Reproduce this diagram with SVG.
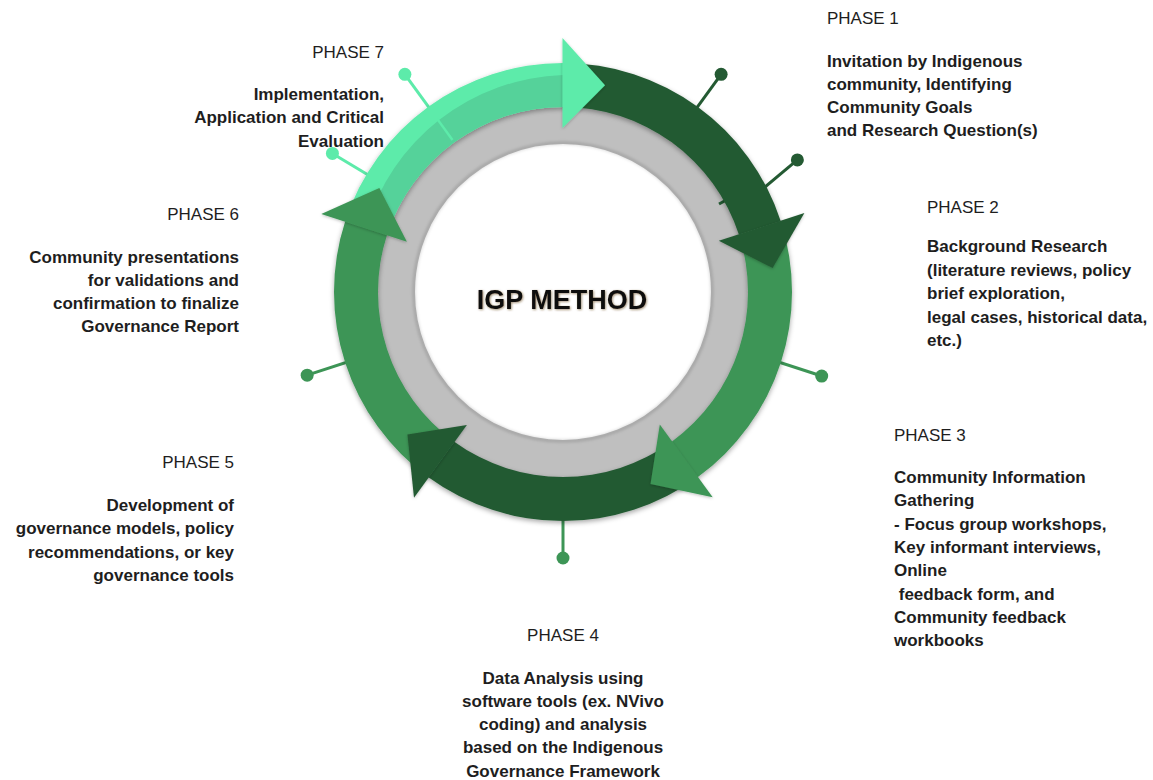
<svg xmlns="http://www.w3.org/2000/svg" width="1153" height="780" viewBox="0 0 1153 780">
  <defs>
    <style>
      .lbl { font-family: "Liberation Sans", Arial, sans-serif; font-size: 17px; fill: #1e1e1e; }
      .hd { font-weight: normal; }
      .bd { font-weight: bold; }
      .dark { fill: #245a33; }
      .mid { fill: #3d9556; }
      .light { fill: #5debaa; }
      .light2 { fill: #55d29a; }
      .pin-dark { stroke: #245a33; fill: #245a33; }
      .pin-mid { stroke: #3d9556; fill: #3d9556; }
      .pin-light { stroke: #5debaa; fill: #5debaa; }
      .stalk { stroke-width: 3; fill: none; }
    </style>
    <filter id="ringShadow" x="-20%" y="-20%" width="140%" height="140%">
      <feDropShadow dx="0" dy="2" stdDeviation="2.5" flood-color="#000" flood-opacity="0.35"/>
    </filter>
    <filter id="headShadow" x="-30%" y="-30%" width="160%" height="160%">
      <feDropShadow dx="0" dy="1" stdDeviation="1.5" flood-color="#000" flood-opacity="0.25"/>
    </filter>
    <filter id="soft" x="-10%" y="-10%" width="120%" height="120%">
      <feGaussianBlur stdDeviation="1.5"/>
    </filter>
    <filter id="titleShadow" x="-10%" y="-30%" width="120%" height="160%">
      <feDropShadow dx="0.8" dy="0.8" stdDeviation="0.8" flood-color="#5a3a10" flood-opacity="0.6"/>
    </filter>
  </defs>

  <rect width="1153" height="780" fill="#ffffff"/>

  <!-- grey inner ring -->
  <g id="core">
    <circle cx="563" cy="292" r="167" fill="none" stroke="#bfbfbf" stroke-width="38"/>
    <circle cx="563" cy="292" r="149" fill="none" stroke="#000" stroke-opacity="0.15" stroke-width="3" filter="url(#soft)"/>
    <text x="562" y="309" text-anchor="middle" font-family="'Liberation Sans', Arial, sans-serif" font-size="27" font-weight="bold" fill="#111" filter="url(#titleShadow)">IGP METHOD</text>
  </g>

  <!-- leader pins from the ring to each phase -->
  <g id="connectors" class="stalk">
    <g class="pin-dark">
      <line x1="680.56" y1="130.20" x2="721.12" y2="74.37"/>
      <circle cx="721.12" cy="74.37" r="6.5" stroke="none"/>
      <line x1="737.24" y1="210.18" x2="797.36" y2="159.95"/>
      <line x1="719" y1="204" x2="730" y2="198"/>
      <circle cx="797.36" cy="159.95" r="6.5" stroke="none"/>
    </g>
    <g class="pin-mid">
      <line x1="753.21" y1="353.80" x2="821.69" y2="376.05"/>
      <circle cx="821.69" cy="376.05" r="6.5" stroke="none"/>
      <line x1="563" y1="492" x2="563" y2="558"/>
      <circle cx="563" cy="558" r="6.5" stroke="none"/>
      <line x1="372.79" y1="353.80" x2="307.17" y2="375.13"/>
      <circle cx="307.17" cy="375.13" r="6.5" stroke="none"/>
    </g>
    <g class="pin-light">
      <line x1="391.57" y1="188.99" x2="332.42" y2="153.45"/>
      <circle cx="332.42" cy="153.45" r="6.5" stroke="none"/>
      <line x1="445.44" y1="130.20" x2="404.88" y2="74.37"/>
      <circle cx="404.88" cy="74.37" r="6.5" stroke="none"/>
    </g>
  </g>

  <!-- cycle of arrow bands -->
  <g id="cycle">
    <g filter="url(#ringShadow)">
      <path class="light" d="M 345.21 221.23 A 229 229 0 0 1 563 63 L 563 107 A 185 185 0 0 0 387.05 234.83 Z"/>
      <path class="light2" d="M 366.13 228.03 A 212 212 0 0 1 563 75 L 563 107 A 185 185 0 0 0 387.05 234.83 Z"/>
      <line x1="452.50" y1="139.90" x2="437.21" y2="118.87" stroke="#5debaa" stroke-width="2.5"/>
      <path class="dark" d="M 563 63 A 229 229 0 0 1 780.79 221.23 L 738.95 234.83 A 185 185 0 0 0 563 107 Z"/>
      <path class="mid" d="M 780.79 221.23 A 229 229 0 0 1 697.60 477.27 L 671.74 441.67 A 185 185 0 0 0 738.95 234.83 Z"/>
      <path class="dark" d="M 697.60 477.27 A 229 229 0 0 1 428.40 477.27 L 454.26 441.67 A 185 185 0 0 0 671.74 441.67 Z"/>
      <path class="mid" d="M 428.40 477.27 A 229 229 0 0 1 345.21 221.23 L 387.05 234.83 A 185 185 0 0 0 454.26 441.67 Z"/>
    </g>
    <g filter="url(#headShadow)">
      <polygon class="light" points="562.5,128 562.5,38 605.07,85.24"/>
      <polygon class="dark" points="718.8,240.8 804.4,213 772.64,268.11"/>
      <polygon class="mid" points="659.8,424.4 712.7,497.2 650.50,484.00"/>
      <polygon class="dark" points="466.9,425 414,497.8 407.43,434.55"/>
      <polygon class="mid" points="406.9,241.8 321.3,214 379.35,188.10"/>
    </g>
  </g>

  <g id="phase1" class="lbl">
    <text class="hd" x="827" y="24">PHASE 1</text>
    <text class="bd" x="827" y="66.5">Invitation by Indigenous</text>
    <text class="bd" x="827" y="89.8">community, Identifying</text>
    <text class="bd" x="827" y="113.1">Community Goals</text>
    <text class="bd" x="827" y="136.4">and Research Question(s)</text>
  </g>

  <g id="phase2" class="lbl">
    <text class="hd" x="927" y="213">PHASE 2</text>
    <text class="bd" x="927" y="252">Background Research</text>
    <text class="bd" x="927" y="275.5">(literature reviews, policy</text>
    <text class="bd" x="927" y="299">brief exploration,</text>
    <text class="bd" x="927" y="322.5">legal cases, historical data,</text>
    <text class="bd" x="927" y="346">etc.)</text>
  </g>

  <g id="phase3" class="lbl">
    <text class="hd" x="894" y="441">PHASE 3</text>
    <text class="bd" x="894" y="483">Community Information</text>
    <text class="bd" x="894" y="506.3">Gathering</text>
    <text class="bd" x="894" y="529.6">- Focus group workshops,</text>
    <text class="bd" x="894" y="552.9">Key informant interviews,</text>
    <text class="bd" x="894" y="576.2">Online</text>
    <text class="bd" x="894" y="599.5" style="white-space:pre"> feedback form, and</text>
    <text class="bd" x="894" y="622.8">Community feedback</text>
    <text class="bd" x="894" y="646.1">workbooks</text>
  </g>

  <g id="phase4" class="lbl" text-anchor="middle">
    <text class="hd" x="563" y="641">PHASE 4</text>
    <text class="bd" x="563" y="683.5">Data Analysis using</text>
    <text class="bd" x="563" y="706.8">software tools (ex. NVivo</text>
    <text class="bd" x="563" y="730.1">coding) and analysis</text>
    <text class="bd" x="563" y="753.4">based on the Indigenous</text>
    <text class="bd" x="563" y="776.7">Governance Framework</text>
  </g>

  <g id="phase5" class="lbl" text-anchor="end">
    <text class="hd" x="234" y="468">PHASE 5</text>
    <text class="bd" x="234" y="511">Development of</text>
    <text class="bd" x="234" y="534.3">governance models, policy</text>
    <text class="bd" x="234" y="557.6">recommendations, or key</text>
    <text class="bd" x="234" y="580.9">governance tools</text>
  </g>

  <g id="phase6" class="lbl" text-anchor="end">
    <text class="hd" x="239" y="219.5">PHASE 6</text>
    <text class="bd" x="239" y="262.5">Community presentations</text>
    <text class="bd" x="239" y="285.8">for validations and</text>
    <text class="bd" x="239" y="309.1">confirmation to finalize</text>
    <text class="bd" x="239" y="332.4">Governance Report</text>
  </g>

  <g id="phase7" class="lbl" text-anchor="end">
    <text class="hd" x="384" y="58">PHASE 7</text>
    <text class="bd" x="384" y="100">Implementation,</text>
    <text class="bd" x="384" y="123.3">Application and Critical</text>
    <text class="bd" x="384" y="146.6">Evaluation</text>
  </g>
</svg>
